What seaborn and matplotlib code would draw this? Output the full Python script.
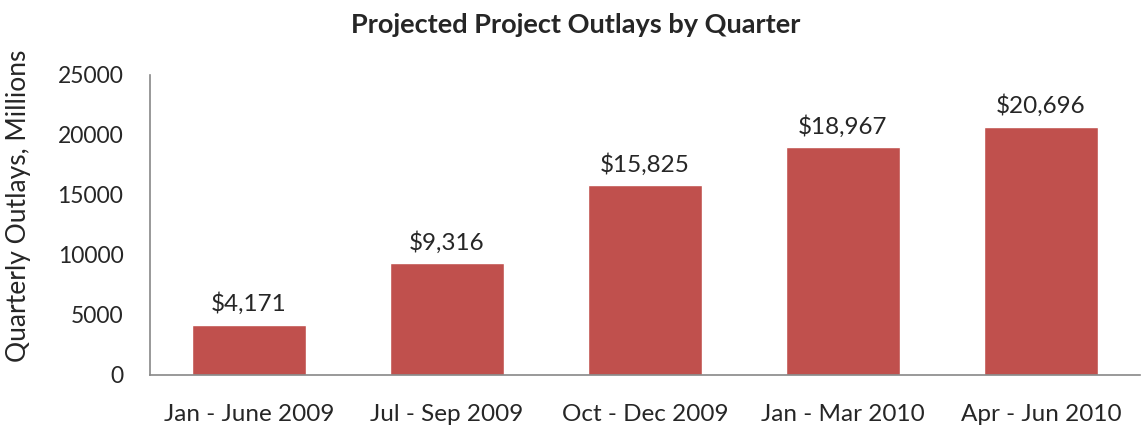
import matplotlib

matplotlib.use("Agg")
import matplotlib.pyplot as plt
import pandas as pd
import seaborn as sns

quarters = ["Jan - June 2009", "Jul - Sep 2009", "Oct - Dec 2009", "Jan - Mar 2010", "Apr - Jun 2010"]
outlays = [4171, 9316, 15825, 18967, 20696]
y_ticks = [0, 5000, 10000, 15000, 20000, 25000]

sns.set_style("white")
plt.rcParams["font.family"] = ["Lato", "DejaVu Sans"]

df = pd.DataFrame({"quarter": quarters, "outlay": outlays})

fig = plt.figure(figsize=(11.44, 4.33), dpi=100)
ax = fig.add_axes([0.131, 0.134, 0.8655, 0.693])
sns.barplot(data=df, x="quarter", y="outlay", color="#C0504D", width=0.576,
            saturation=1, ax=ax)

for i, v in enumerate(outlays):
    ax.text(i, v + 800, f"${v:,}", ha="center", va="bottom", fontsize=17.5)

ax.set_xlim(-0.5, 4.5)
ax.set_ylim(0, 25000)
ax.set_yticks(y_ticks)
ax.set_yticklabels([str(t) for t in y_ticks])
ax.tick_params(axis="both", labelsize=17.5, length=0)
ax.tick_params(axis="y", labelsize=16.5, pad=19)
ax.tick_params(axis="x", pad=21)
ax.set_xlabel("")
ax.set_ylabel("Quarterly Outlays, Millions", fontsize=19)
ax.yaxis.set_label_coords(-0.12, 0.565)
for side in ["top", "right"]:
    ax.spines[side].set_visible(False)
for side in ["left", "bottom"]:
    ax.spines[side].set_color("#888888")
    ax.spines[side].set_linewidth(1.2)

fig.suptitle("Projected Project Outlays by Quarter", fontsize=19.5, fontweight="bold",
             x=0.503, y=0.97)

fig.savefig("out.png", dpi=100)
plt.close(fig)
